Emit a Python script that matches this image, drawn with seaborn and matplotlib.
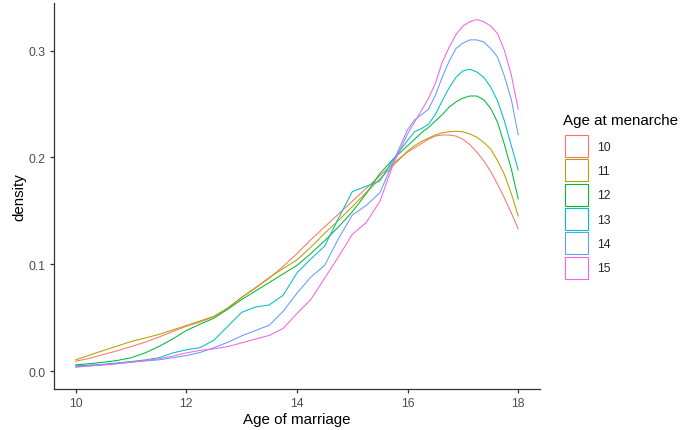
import matplotlib
matplotlib.use("Agg")
import matplotlib.pyplot as plt
from matplotlib.patches import Patch
import seaborn as sns
import pandas as pd

# Age of marriage grid (years)
age = [10, 10.25, 10.5, 10.75, 11, 11.25, 11.5, 11.75, 12, 12.25, 12.5, 12.75,
       13, 13.25, 13.5, 13.75, 14, 14.25, 14.5, 14.75, 15, 15.25, 15.5, 15.75,
       16, 16.125, 16.25, 16.375, 16.5, 16.625, 16.75, 16.875, 17, 17.125,
       17.25, 17.375, 17.5, 17.625, 17.75, 17.875, 18]

# Estimated density of age at marriage, by age at menarche
dens_10 = [0.0093, 0.012, 0.0156, 0.019, 0.023, 0.027, 0.0318, 0.037, 0.042, 0.046, 0.051, 0.059,
           0.069, 0.078, 0.087, 0.098, 0.110, 0.123, 0.135, 0.147, 0.159, 0.171, 0.183, 0.195,
           0.205, 0.209, 0.213, 0.217, 0.220, 0.221, 0.221, 0.220, 0.217, 0.212,
           0.205, 0.197, 0.187, 0.175, 0.162, 0.148, 0.133]
dens_11 = [0.0106, 0.015, 0.0193, 0.0235, 0.0277, 0.031, 0.0343, 0.0385, 0.0427, 0.047, 0.0514, 0.059,
           0.069, 0.078, 0.0876, 0.096, 0.104, 0.116, 0.129, 0.141, 0.154, 0.167, 0.180, 0.193,
           0.206, 0.211, 0.215, 0.218, 0.221, 0.223, 0.224, 0.2245, 0.224, 0.222,
           0.219, 0.214, 0.208, 0.197, 0.184, 0.166, 0.145]
dens_12 = [0.0059, 0.007, 0.0084, 0.010, 0.0125, 0.017, 0.023, 0.030, 0.038, 0.044, 0.0496, 0.058,
           0.067, 0.075, 0.083, 0.091, 0.099, 0.110, 0.122, 0.135, 0.149, 0.166, 0.185, 0.199,
           0.211, 0.217, 0.223, 0.228, 0.234, 0.240, 0.247, 0.252, 0.2555, 0.2575,
           0.2575, 0.254, 0.246, 0.233, 0.212, 0.189, 0.161]
dens_13 = [0.005, 0.0057, 0.0065, 0.0077, 0.009, 0.0105, 0.0125, 0.017, 0.020, 0.022, 0.029, 0.042,
           0.055, 0.060, 0.062, 0.071, 0.092, 0.105, 0.117, 0.143, 0.168, 0.173, 0.178, 0.199,
           0.216, 0.224, 0.227, 0.231, 0.240, 0.253, 0.265, 0.275, 0.281, 0.2825,
           0.280, 0.275, 0.266, 0.253, 0.234, 0.211, 0.188]
dens_14 = [0.0042, 0.005, 0.0059, 0.007, 0.0084, 0.0095, 0.0106, 0.0125, 0.0146, 0.0175, 0.022, 0.027,
           0.033, 0.038, 0.043, 0.056, 0.073, 0.088, 0.099, 0.124, 0.146, 0.155, 0.167, 0.197,
           0.226, 0.235, 0.240, 0.245, 0.258, 0.275, 0.290, 0.302, 0.307, 0.310,
           0.310, 0.308, 0.302, 0.294, 0.276, 0.254, 0.221]
dens_15 = [0.0037, 0.0048, 0.0059, 0.007, 0.0084, 0.010, 0.0115, 0.014, 0.0171, 0.0195, 0.0209, 0.023,
           0.0265, 0.030, 0.0335, 0.040, 0.054, 0.067, 0.087, 0.107, 0.128, 0.139, 0.159, 0.195,
           0.222, 0.233, 0.244, 0.255, 0.269, 0.289, 0.303, 0.315, 0.323, 0.327,
           0.329, 0.327, 0.323, 0.316, 0.300, 0.277, 0.245]

groups = ["10", "11", "12", "13", "14", "15"]
series = [dens_10, dens_11, dens_12, dens_13, dens_14, dens_15]
colors = ["#F8766D", "#B79F00", "#00BA38", "#00BFC4", "#619CFF", "#F564E3"]

df = pd.concat(
    [pd.DataFrame({"age": age, "density": vals, "menarche": g}) for g, vals in zip(groups, series)],
    ignore_index=True,
)

sns.set_style("ticks")
plt.rcParams["font.family"] = ["Liberation Sans", "DejaVu Sans"]

W, H = 680, 431
fig = plt.figure(figsize=(W / 100, H / 100), dpi=100)
ax = fig.add_axes([53.5 / W, 1 - 389.7 / H, (540.4 - 53.5) / W, (389.7 - 3.8) / H])

sns.lineplot(data=df, x="age", y="density", hue="menarche", hue_order=groups,
             palette=colors, sort=False, legend=False, linewidth=0.75, ax=ax)

ax.set_xlim(9.6, 18.4)
ax.set_ylim(-0.0164, 0.3447)
ax.set_xticks([10, 12, 14, 16, 18])
ax.set_yticks([0.0, 0.1, 0.2, 0.3])
ax.set_yticklabels(["0.0", "0.1", "0.2", "0.3"])

for side in ["top", "right"]:
    ax.spines[side].set_visible(False)
for side in ["left", "bottom"]:
    ax.spines[side].set_color("#333333")
    ax.spines[side].set_linewidth(0.9)

ax.tick_params(axis="both", length=3.0, width=0.9, color="#333333",
               labelcolor="#4D4D4D", labelsize=8.8, pad=3)

ax.set_xlabel("Age of marriage", fontsize=10.9, color="black", labelpad=2)
ax.set_ylabel("density", fontsize=10.9, color="black", labelpad=1)

# Legend: outlined square keys as in a density legend
handles = [Patch(facecolor="white", edgecolor=c, linewidth=0.8) for c in colors]
fs = 8.8
key_h = 15.84   # key height in points
key_w = 16.3    # key width in points
hh = (key_h / fs - 0.245) / 0.65
leg = fig.legend(handles, groups, loc="upper left",
                 bbox_to_anchor=(565 / W, 1 - 136 / H), frameon=False,
                 fontsize=fs, handlelength=key_w / fs, handleheight=hh,
                 labelspacing=(17.5 - key_h) / fs, handletextpad=6.7 / fs,
                 borderpad=0, borderaxespad=0)
fig.text(563 / W, 1 - 120.7 / H, "Age at menarche", fontsize=10.9,
         ha="left", va="center", color="black")

fig.savefig("out.png", dpi=100)
